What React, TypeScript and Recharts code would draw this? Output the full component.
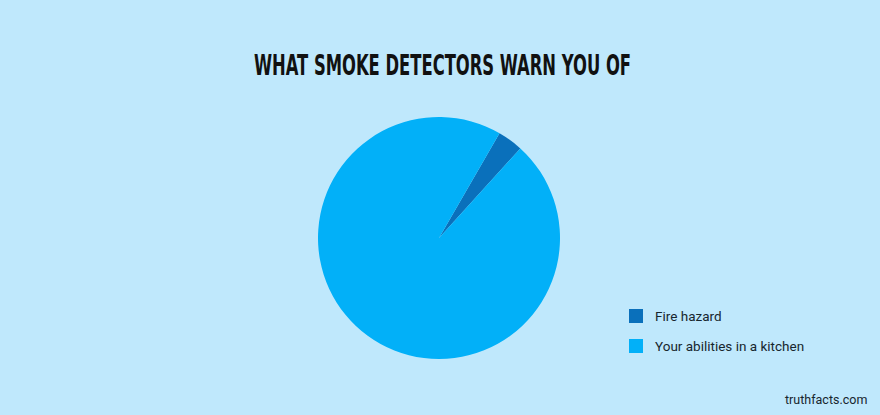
import React from 'react';
import { PieChart, Pie, Cell, Legend } from 'recharts';

const categories = ['Fire hazard', 'Your abilities in a kitchen'];
const shares = [3.4, 96.6];
const sliceColors = ['#0a70bb', '#02b0f8'];

const chartTitle = 'WHAT SMOKE DETECTORS WARN YOU OF';
const credit = 'truthfacts.com';

const data = categories.map((name, i) => ({ name, value: shares[i] }));

const LegendBox = () => (
  <div style={{ fontFamily: 'Roboto, sans-serif', fontSize: 13.5, color: '#17262e' }}>
    {categories.map((name, i) => (
      <div key={name} style={{ display: 'flex', alignItems: 'center', height: 14, marginBottom: 16 }}>
        <span style={{ width: 14, height: 14, background: sliceColors[i], display: 'inline-block', marginRight: 12 }} />
        <span>{name}</span>
      </div>
    ))}
  </div>
);

export default function App() {
  return (
    <div style={{ position: 'fixed', left: 0, top: 0, width: 880, height: 415, background: '#bfe8fc', overflow: 'hidden' }}>
      <svg width={880} height={90} style={{ position: 'absolute', left: 0, top: 0 }}>
        <text
          x={254}
          y={75}
          textLength={377}
          lengthAdjust="spacingAndGlyphs"
          fontFamily="'DejaVu Sans Condensed', 'DejaVu Sans', sans-serif"
          fontWeight="bold"
          fontSize={29}
          fill="#111111"
        >
          {chartTitle}
        </text>
      </svg>
      <PieChart width={880} height={415} margin={{ top: 0, right: 0, bottom: 0, left: 0 }}>
        <Pie
          data={data}
          dataKey="value"
          nameKey="name"
          cx={439}
          cy={238}
          outerRadius={121}
          startAngle={60}
          endAngle={-300}
          stroke="none"
          isAnimationActive={false}
        >
          {data.map((d, i) => (
            <Cell key={d.name} fill={sliceColors[i]} />
          ))}
        </Pie>
        <Legend
          content={<LegendBox />}
          layout="vertical"
          wrapperStyle={{ left: 629, top: 309, width: 240 }}
        />
      </PieChart>
      <div
        style={{
          position: 'absolute',
          left: 785,
          top: 392,
          fontFamily: 'Roboto, sans-serif',
          fontSize: 12.5,
          color: '#17262e',
        }}
      >
        {credit}
      </div>
    </div>
  );
}
